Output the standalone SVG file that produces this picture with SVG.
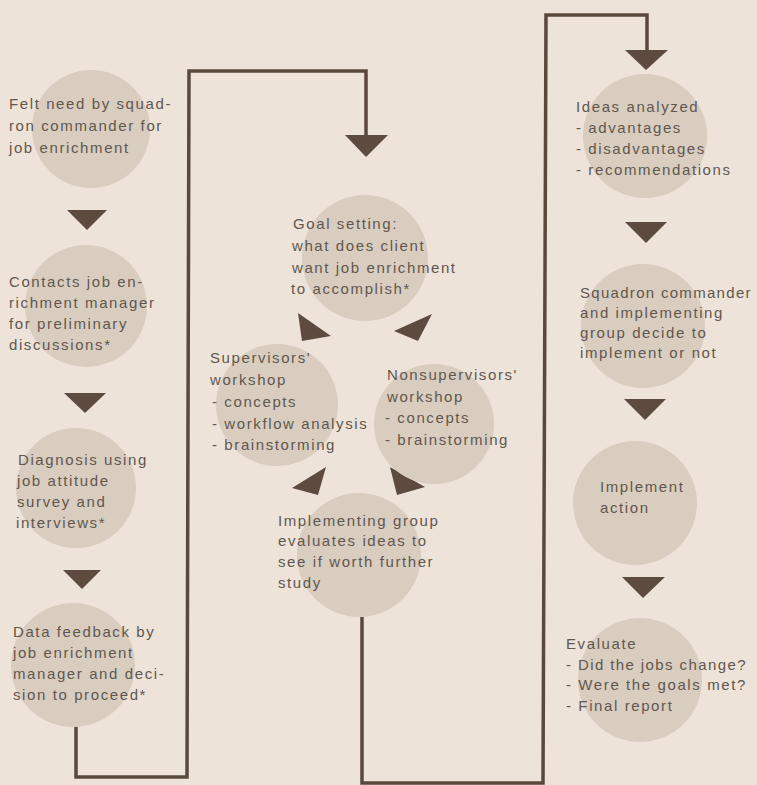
<svg xmlns="http://www.w3.org/2000/svg" width="757" height="785" viewBox="0 0 757 785">
<style>
.bg{fill:#ede3d9}
.node{fill:#d9cdbf}
.t{font-family:"Liberation Sans",Arial,sans-serif;font-size:15px;letter-spacing:1.6px;fill:#61574f}
.line{fill:none;stroke:#5a483d;stroke-width:3.5;stroke-linejoin:miter}
.head{fill:#5e4b40}
</style>
<rect class="bg" x="0" y="0" width="757" height="785"/>

<g id="connectors">
  <polyline class="line" points="76,727 76,777 187,777 189,71 366,71 366,137"/>
  <polyline class="line" points="362,617 362,783 543,783 546,15 647,15 647,51"/>
  <polygon class="head" points="345,135 388,135 366,157"/>
  <polygon class="head" points="625,50 668,50 646,70"/>
  <polygon class="head" points="67,210 107,210 87,230"/>
  <polygon class="head" points="64,393 106,393 85,413"/>
  <polygon class="head" points="63,570 101,570 82,589"/>
  <polygon class="head" points="298,313 331,336 302,341"/>
  <polygon class="head" points="432,314 394,331 418,341"/>
  <polygon class="head" points="326,467 292,488 318,495"/>
  <polygon class="head" points="390,467 425,487 397,495"/>
  <polygon class="head" points="625,222 667,222 646,243"/>
  <polygon class="head" points="624,399 666,399 645,420"/>
  <polygon class="head" points="622,577 665,577 643,598"/>
</g>

<g id="felt-need">
  <circle class="node" cx="91" cy="129" r="59"/>
  <text class="t" x="9" y="109">Felt need by squad-</text>
  <text class="t" x="9" y="131">ron commander for</text>
  <text class="t" x="9" y="153">job enrichment</text>
</g>
<g id="contacts">
  <circle class="node" cx="86" cy="306" r="61"/>
  <text class="t" x="9" y="287">Contacts job en-</text>
  <text class="t" x="9" y="308">richment manager</text>
  <text class="t" x="9" y="329">for preliminary</text>
  <text class="t" x="9" y="350">discussions*</text>
</g>
<g id="diagnosis">
  <circle class="node" cx="76" cy="488" r="60"/>
  <text class="t" x="18" y="465">Diagnosis using</text>
  <text class="t" x="17" y="486">job attitude</text>
  <text class="t" x="17" y="507">survey and</text>
  <text class="t" x="16" y="528">interviews*</text>
</g>
<g id="data-feedback">
  <circle class="node" cx="73" cy="665" r="62"/>
  <text class="t" x="13" y="637">Data feedback by</text>
  <text class="t" x="13" y="658">job enrichment</text>
  <text class="t" x="13" y="679">manager and deci-</text>
  <text class="t" x="13" y="700">sion to proceed*</text>
</g>

<g id="goal-setting">
  <circle class="node" cx="365" cy="258" r="63"/>
  <text class="t" x="293" y="229">Goal setting:</text>
  <text class="t" x="292" y="251">what does client</text>
  <text class="t" x="292" y="273">want job enrichment</text>
  <text class="t" x="291" y="294">to accomplish*</text>
</g>
<g id="supervisors">
  <circle class="node" cx="277" cy="405" r="61"/>
  <text class="t" x="210" y="363">Supervisors'</text>
  <text class="t" x="210" y="385">workshop</text>
  <text class="t" x="212" y="407">- concepts</text>
  <text class="t" x="212" y="429">- workflow analysis</text>
  <text class="t" x="212" y="450">- brainstorming</text>
</g>
<g id="nonsupervisors">
  <circle class="node" cx="434" cy="424" r="60"/>
  <text class="t" x="387" y="380">Nonsupervisors'</text>
  <text class="t" x="387" y="402">workshop</text>
  <text class="t" x="385" y="423">- concepts</text>
  <text class="t" x="385" y="445">- brainstorming</text>
</g>
<g id="implementing-group">
  <circle class="node" cx="359" cy="555" r="62"/>
  <text class="t" x="278" y="526">Implementing group</text>
  <text class="t" x="278" y="546">evaluates ideas to</text>
  <text class="t" x="278" y="567">see if worth further</text>
  <text class="t" x="278" y="588">study</text>
</g>

<g id="ideas-analyzed">
  <circle class="node" cx="645" cy="136" r="62"/>
  <text class="t" x="576" y="112">Ideas analyzed</text>
  <text class="t" x="576" y="133">- advantages</text>
  <text class="t" x="576" y="154">- disadvantages</text>
  <text class="t" x="576" y="175">- recommendations</text>
</g>
<g id="decide">
  <circle class="node" cx="643" cy="326" r="62"/>
  <text class="t" x="580" y="298" style="letter-spacing:1.3px">Squadron commander</text>
  <text class="t" x="580" y="318">and implementing</text>
  <text class="t" x="580" y="338">group decide to</text>
  <text class="t" x="580" y="358">implement or not</text>
</g>
<g id="implement-action">
  <circle class="node" cx="635" cy="503" r="62"/>
  <text class="t" x="600" y="492">Implement</text>
  <text class="t" x="600" y="513">action</text>
</g>
<g id="evaluate">
  <circle class="node" cx="640" cy="680" r="62"/>
  <text class="t" x="566" y="649">Evaluate</text>
  <text class="t" x="566" y="670" style="letter-spacing:1.4px">- Did the jobs change?</text>
  <text class="t" x="566" y="690">- Were the goals met?</text>
  <text class="t" x="566" y="711">- Final report</text>
</g>
</svg>
